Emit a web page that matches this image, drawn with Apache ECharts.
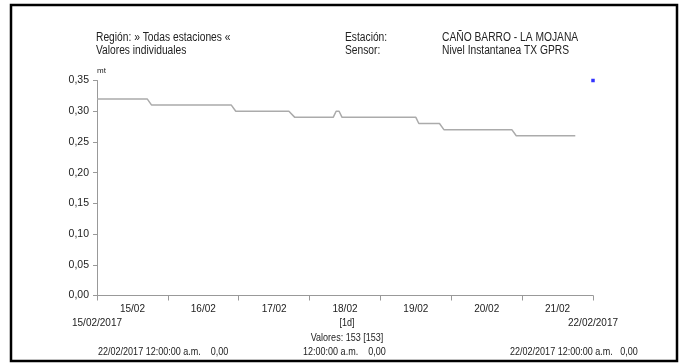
<!DOCTYPE html>
<html>
<head>
<meta charset="utf-8">
<script src="https://cdn.jsdelivr.net/npm/echarts@6/dist/echarts.min.js"></script>
<style>
html,body{margin:0;padding:0;background:#fff;}
#c{width:683px;height:364px;}
</style>
</head>
<body>
<div id="c"></div>
<script>
// Hours since 15/02/2017 00:00 where the level changes, and the level (mt)
const hours  = [0, 17, 18.5, 45.5, 47, 65, 67, 80, 81, 82, 83, 108, 109, 116, 117.5, 140.5, 142, 162];
const levels = [0.32, 0.32, 0.31, 0.31, 0.30, 0.30, 0.29, 0.29, 0.30, 0.30, 0.29, 0.29, 0.28, 0.28, 0.27, 0.27, 0.26, 0.26];
// single out-of-series marker (blue)
const markerHour = [168];
const markerValue = [0.35];
const dayLabels = ['15/02', '16/02', '17/02', '18/02', '19/02', '20/02', '21/02'];
const rangeLabels = ['15/02/2017', '22/02/2017'];

const FONT = "'Liberation Sans', Arial, sans-serif";
const TXT = '#222';
const SX = 0.82;

const lineData = hours.map((h, i) => [h, levels[i]]);
const markerData = markerHour.map((h, i) => [h, markerValue[i]]);

const chart = echarts.init(document.getElementById('c'), null, {renderer: 'canvas'});

function t(x, y, text, size, align) {
  return {
    type: 'text', x: x, y: y, scaleX: SX, silent: true,
    style: {text: text, fill: TXT, font: size + 'px ' + FONT, textVerticalAlign: 'middle', textAlign: align || 'left'}
  };
}

chart.setOption({
  animation: false,
  backgroundColor: '#fff',
  grid: {left: 97, right: 90, top: 80.5, bottom: 68.5, containLabel: false},
  xAxis: [
    {
      type: 'value', min: 0, max: 168, interval: 24,
      axisLine: {show: true, lineStyle: {color: '#999', width: 1}},
      axisTick: {show: true, length: 5, lineStyle: {color: '#999'}},
      axisLabel: {show: false},
      splitLine: {show: false}
    },
    {
      type: 'value', min: 0, max: 168, interval: 12, position: 'bottom',
      axisLine: {show: false}, axisTick: {show: false}, splitLine: {show: false},
      axisLabel: {
        margin: 9, color: TXT, fontSize: 10, fontFamily: FONT, showMinLabel: true, showMaxLabel: true,
        formatter: v => (v % 24 === 12 ? dayLabels[(v - 12) / 24] : '')
      }
    },
    {
      type: 'value', min: 0, max: 168, interval: 168, position: 'bottom',
      axisLine: {show: false}, axisTick: {show: false}, splitLine: {show: false},
      axisLabel: {
        margin: 23, color: TXT, fontSize: 10, fontFamily: FONT,
        formatter: v => (v === 0 ? rangeLabels[0] : (v === 168 ? rangeLabels[1] : ''))
      }
    }
  ],
  yAxis: {
    type: 'value', min: 0, max: 0.35, interval: 0.05,
    name: 'mt', nameLocation: 'end', nameGap: 6,
    nameTextStyle: {fontSize: 8, color: TXT, fontFamily: FONT, align: 'left', padding: [0, 0, 0, 0]},
    axisLine: {show: true, lineStyle: {color: '#999', width: 1}},
    axisTick: {show: true, length: 4, lineStyle: {color: '#999'}},
    axisLabel: {margin: 8, color: TXT, fontSize: 10.5, fontFamily: FONT,
      formatter: v => v.toFixed(2).replace('.', ',')},
    splitLine: {show: false}
  },
  series: [
    {
      type: 'line', xAxisIndex: 0, data: lineData, showSymbol: false, symbol: 'none',
      lineStyle: {color: '#ababab', width: 1.5}, itemStyle: {color: '#ababab'}
    },
    {
      type: 'scatter', xAxisIndex: 0, data: markerData, symbol: 'rect', symbolSize: 3.5,
      itemStyle: {color: '#0000ff'}, clip: false
    }
  ],
  graphic: [
    {type: 'rect', shape: {x: 11, y: 5, width: 666, height: 356},
      style: {fill: 'none', stroke: '#000', lineWidth: 2.5}, silent: true},
    t(96, 38, 'Región: » Todas estaciones «', 12.5),
    t(96, 51, 'Valores individuales', 12.5),
    t(345, 38, 'Estación:', 12.5),
    t(345, 51, 'Sensor:', 12.5),
    t(442, 38, 'CAÑO BARRO - LA MOJANA', 12.5),
    t(442, 51, 'Nivel Instantanea TX GPRS', 12.5),
    t(347, 323, '[1d]', 11, 'center'),
    t(347, 338, 'Valores: 153 [153]', 11, 'center'),
    t(98, 352, '22/02/2017 12:00:00 a.m.    0,00', 11),
    t(303, 352, '12:00:00 a.m.    0,00', 11),
    t(510, 352, '22/02/2017 12:00:00 a.m.   0,00', 11)
  ]
});
</script>
</body>
</html>
